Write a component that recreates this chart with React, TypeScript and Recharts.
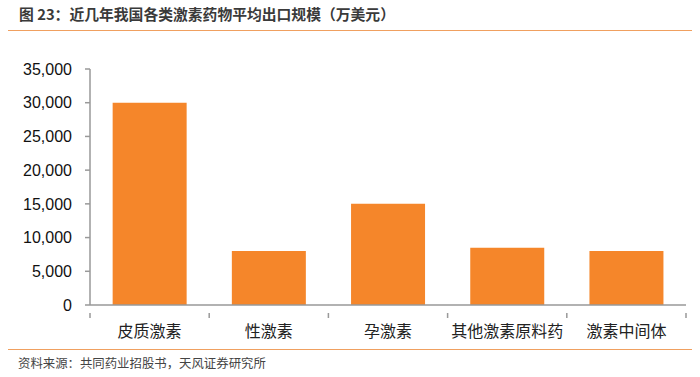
import { BarChart, Bar, XAxis, YAxis } from 'recharts';

const categories = ['皮质激素', '性激素', '孕激素', '其他激素原料药', '激素中间体'];
const exportValues = [30000, 8000, 15000, 8500, 8000];
const yTicks = [0, 5000, 10000, 15000, 20000, 25000, 30000, 35000];

const chartData = categories.map((name, i) => ({ name, value: exportValues[i] }));

const CategoryTick = (props: any) => {
  const { x, y, payload, index, visibleTicksCount } = props;
  const half = payload.offset || 59.6;
  return (
    <g>
      <line x1={x - half} y1={y} x2={x - half} y2={y + 5} stroke="#999" strokeWidth={1.5} />
      {index === (visibleTicksCount ?? categories.length) - 1 && (
        <line x1={x + half} y1={y} x2={x + half} y2={y + 5} stroke="#999" strokeWidth={1.5} />
      )}
      <text x={x} y={y + 24} textAnchor="middle" fill="#222" fontSize={16}
        fontFamily="'Noto Sans CJK SC', sans-serif">
        {payload.value}
      </text>
    </g>
  );
};

export default function App() {
  return (
    <div style={{ position: 'absolute', left: 0, top: 0, width: 700, height: 377, background: '#fff', fontFamily: "'Liberation Sans', Arial, sans-serif" }}>
      <div style={{ position: 'absolute', left: 19, top: 3, fontSize: 14.8, fontWeight: 'bold', color: '#3a3a3a', fontFamily: "'Noto Sans CJK SC', sans-serif", whiteSpace: 'nowrap' }}>
        图 23：近几年我国各类激素药物平均出口规模（万美元）
      </div>
      <div style={{ position: 'absolute', left: 8, top: 30, width: 684, height: 1, background: '#F0A060' }} />

      <div style={{ position: 'absolute', left: 0, top: 0 }}>
        <BarChart width={700} height={377} data={chartData}
          margin={{ top: 69, right: 14, left: 10, bottom: 42 }} barCategoryGap="19%">
          <XAxis dataKey="name" height={30} interval={0} tickLine={false}
            axisLine={{ stroke: '#999', strokeWidth: 1.5 }} tick={<CategoryTick />} />
          <YAxis width={80} domain={[0, 35000]} ticks={yTicks} interval={0}
            tickFormatter={(v: number) => v.toLocaleString('en-US')}
            axisLine={{ stroke: '#999', strokeWidth: 1.5 }} tickLine={{ stroke: '#999', strokeWidth: 1.5 }}
            tickSize={5} tickMargin={13}
            tick={{ fill: '#111', fontSize: 16, fontFamily: "'Liberation Sans', Arial, sans-serif" }} />
          <Bar dataKey="value" fill="#F5862A" isAnimationActive={false} />
        </BarChart>
      </div>

      <div style={{ position: 'absolute', left: 8, top: 349, width: 684, height: 1, background: '#F0A060' }} />
      <div style={{ position: 'absolute', left: 18, top: 354, fontSize: 12.4, color: '#444', fontFamily: "'Noto Sans CJK SC', sans-serif", whiteSpace: 'nowrap' }}>
        资料来源：共同药业招股书，天风证券研究所
      </div>
    </div>
  );
}
